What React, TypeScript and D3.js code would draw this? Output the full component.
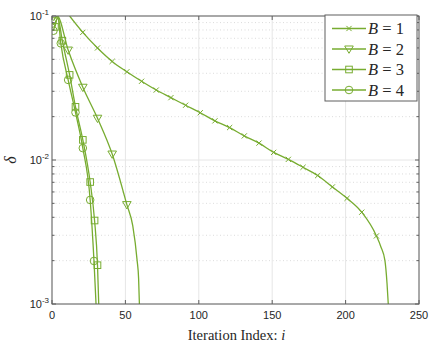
import React from 'react'
import * as d3 from 'd3'

// delta vs iteration index
const b1Points: [number, number][] = [
  [12, 0.1], [21, 0.077], [31, 0.06], [41, 0.0484], [51, 0.041], [61, 0.0352],
  [71, 0.0306], [81, 0.0271], [91, 0.024], [101, 0.0213], [111, 0.0187],
  [121, 0.0168], [131, 0.0147], [141, 0.0131], [151, 0.0113], [161, 0.0101],
  [171, 0.0089], [181, 0.0078], [191, 0.0065], [201, 0.00542], [211, 0.00434],
  [221, 0.00297], [224, 0.0025], [226.8, 0.002], [228.2, 0.0014], [229.2, 0.00095],
]
const b1Marks = [21, 31, 41, 51, 61, 71, 81, 91, 101, 111, 121, 131, 141, 151, 161, 171, 181, 191, 201, 211, 221]

const b2Points: [number, number][] = [
  [1, 0.0927], [3.6, 0.1], [11, 0.058], [21, 0.032], [31, 0.0195], [41, 0.011],
  [51, 0.0049], [55, 0.0035], [58, 0.002], [59, 0.0015], [59.6, 0.00095],
]
const b2Marks = [1, 11, 21, 31, 41, 51]

const b3Points: [number, number][] = [
  [2, 0.084], [4, 0.097], [7, 0.0674], [12, 0.039], [16, 0.0234], [21, 0.0138],
  [26, 0.00703], [29, 0.0038], [31, 0.00186], [31.9, 0.00095],
]
const b3Marks = [2, 7, 12, 16, 21, 26, 29, 31]

const b4Points: [number, number][] = [
  [1, 0.079], [4, 0.097], [6, 0.0646], [11, 0.036], [16, 0.0214], [21, 0.0121],
  [26, 0.00528], [28.6, 0.00199], [30.1, 0.00095],
]
const b4Marks = [1, 6, 11, 16, 21, 26, 28.6]

const seriesNames = ['B = 1', 'B = 2', 'B = 3', 'B = 4']
const seriesPoints = [b1Points, b2Points, b3Points, b4Points]
const seriesMarks = [b1Marks, b2Marks, b3Marks, b4Marks]
const markerTypes = ['x', 'tri', 'square', 'circle']

const xTicks = [0, 50, 100, 150, 200, 250]
const yMajor = [1e-1, 1e-2, 1e-3]
const yExp = ['-1', '-2', '-3']

const green = '#77ac30'
const axisColor = '#5f5f5f'
const textColor = '#262626'
const serif = 'Liberation Serif, DejaVu Serif, serif'
const sans = 'Liberation Sans, Arial, sans-serif'

const margin = { top: 16, right: 17, bottom: 46, left: 52 }
const W = 436
const H = 350
const pw = W - margin.left - margin.right
const ph = H - margin.top - margin.bottom

const Marker = ({ type, x, y }: { type: string; x: number; y: number }) => {
  const p = { fill: 'none', stroke: green, strokeWidth: 1 }
  if (type === 'x') {
    const s = 2.6
    return <path d={`M${x - s},${y - s}L${x + s},${y + s}M${x - s},${y + s}L${x + s},${y - s}`} {...p} />
  }
  if (type === 'tri') {
    const s = 4.3
    return <path d={`M${x - s},${y - s * 0.7}L${x + s},${y - s * 0.7}L${x},${y + s}Z`} {...p} />
  }
  if (type === 'square') {
    const s = 3.3
    return <rect x={x - s} y={y - s} width={2 * s} height={2 * s} {...p} />
  }
  return <circle cx={x} cy={y} r={3.8} {...p} />
}

export default function App() {
  const x = d3.scaleLinear().domain([0, 250]).range([0, pw])
  const y = d3.scaleLog().domain([1e-3, 1e-1]).range([ph, 0])
  const line = d3
    .line<[number, number]>()
    .x((d) => x(d[0]))
    .y((d) => y(d[1]))
    .curve(d3.curveMonotoneX)

  const minor: number[] = []
  ;[1e-3, 1e-2].forEach((base) => {
    for (let k = 2; k <= 9; k++) minor.push(base * k)
  })

  return (
    <div>
      <style>{'body{margin:0}'}</style>
      <svg width={W} height={H} style={{ display: 'block', background: '#fff' }}>
        <defs>
          <clipPath id="plot">
            <rect x={0} y={0} width={pw} height={ph} />
          </clipPath>
        </defs>
        <g transform={`translate(${margin.left},${margin.top})`}>
          {/* grid */}
          {minor.map((v) => (
            <line key={'mg' + v} x1={0} x2={pw} y1={y(v)} y2={y(v)} stroke="#c4c4c4" strokeWidth={0.6} strokeDasharray="1,2.5" />
          ))}
          {yMajor.map((v) => (
            <line key={'yg' + v} x1={0} x2={pw} y1={y(v)} y2={y(v)} stroke="#e6e6e6" strokeWidth={1} />
          ))}
          {xTicks.map((t) => (
            <line key={'xg' + t} x1={x(t)} x2={x(t)} y1={0} y2={ph} stroke="#e6e6e6" strokeWidth={1} />
          ))}

          {/* series */}
          <g clipPath="url(#plot)">
            {seriesPoints.map((pts, i) => (
              <path key={'l' + i} d={line(pts) || ''} fill="none" stroke={green} strokeWidth={1.3} />
            ))}
            {seriesPoints.map((pts, i) =>
              seriesMarks[i].map((m) => {
                const pt = pts.find((p) => p[0] === m)
                if (!pt) return null
                return <Marker key={'m' + i + '-' + m} type={markerTypes[i]} x={x(pt[0])} y={y(pt[1])} />
              })
            )}
          </g>

          {/* axes box */}
          <rect x={0} y={0} width={pw} height={ph} fill="none" stroke={axisColor} strokeWidth={1} />
          {xTicks.map((t) => (
            <g key={'xt' + t}>
              <line x1={x(t)} x2={x(t)} y1={ph} y2={ph - 4} stroke={axisColor} />
              <line x1={x(t)} x2={x(t)} y1={0} y2={4} stroke={axisColor} />
              <text x={x(t)} y={ph + 15} textAnchor="middle" fontSize={11} fontFamily={sans} fill={textColor}>
                {t}
              </text>
            </g>
          ))}
          {yMajor.map((v, i) => (
            <g key={'yt' + v}>
              <line x1={0} x2={4} y1={y(v)} y2={y(v)} stroke={axisColor} />
              <line x1={pw} x2={pw - 4} y1={y(v)} y2={y(v)} stroke={axisColor} />
              <text x={-3} y={y(v) + 4} textAnchor="end" fontSize={11} fontFamily={sans} fill={textColor}>
                10<tspan dy={-5} fontSize={8}>{yExp[i]}</tspan>
              </text>
            </g>
          ))}
          {minor.map((v) => (
            <g key={'ymt' + v}>
              <line x1={0} x2={2.5} y1={y(v)} y2={y(v)} stroke={axisColor} />
              <line x1={pw} x2={pw - 2.5} y1={y(v)} y2={y(v)} stroke={axisColor} />
            </g>
          ))}

          {/* labels */}
          <text x={pw / 2 + 1} y={ph + 36} textAnchor="middle" fontSize={14.5} fontFamily={serif} fill={textColor}>
            Iteration Index: <tspan fontStyle="italic">i</tspan>
          </text>
          <text transform={`translate(${-36},${ph / 2}) rotate(-90)`} textAnchor="middle" fontSize={16} fontStyle="italic" fontFamily={serif} fill={textColor}>
            δ
          </text>

          {/* legend */}
          <g transform={`translate(${325 - margin.left},${15 - margin.top})`}>
            <rect x={0} y={0} width={92} height={86} fill="#fff" stroke={axisColor} strokeWidth={1} />
            {seriesNames.map((name, i) => {
              const ly = 13.5 + i * 20.5
              const [bName, val] = name.split(' = ')
              return (
                <g key={'lg' + i}>
                  <line x1={7} x2={41} y1={ly} y2={ly} stroke={green} strokeWidth={1.3} />
                  <Marker type={markerTypes[i]} x={24} y={ly} />
                  <text x={43} y={ly + 5.5} fontSize={16.5} fontFamily={serif} fill={textColor}>
                    <tspan fontStyle="italic">{bName}</tspan> = {val}
                  </text>
                </g>
              )
            })}
          </g>
        </g>
      </svg>
    </div>
  )
}
